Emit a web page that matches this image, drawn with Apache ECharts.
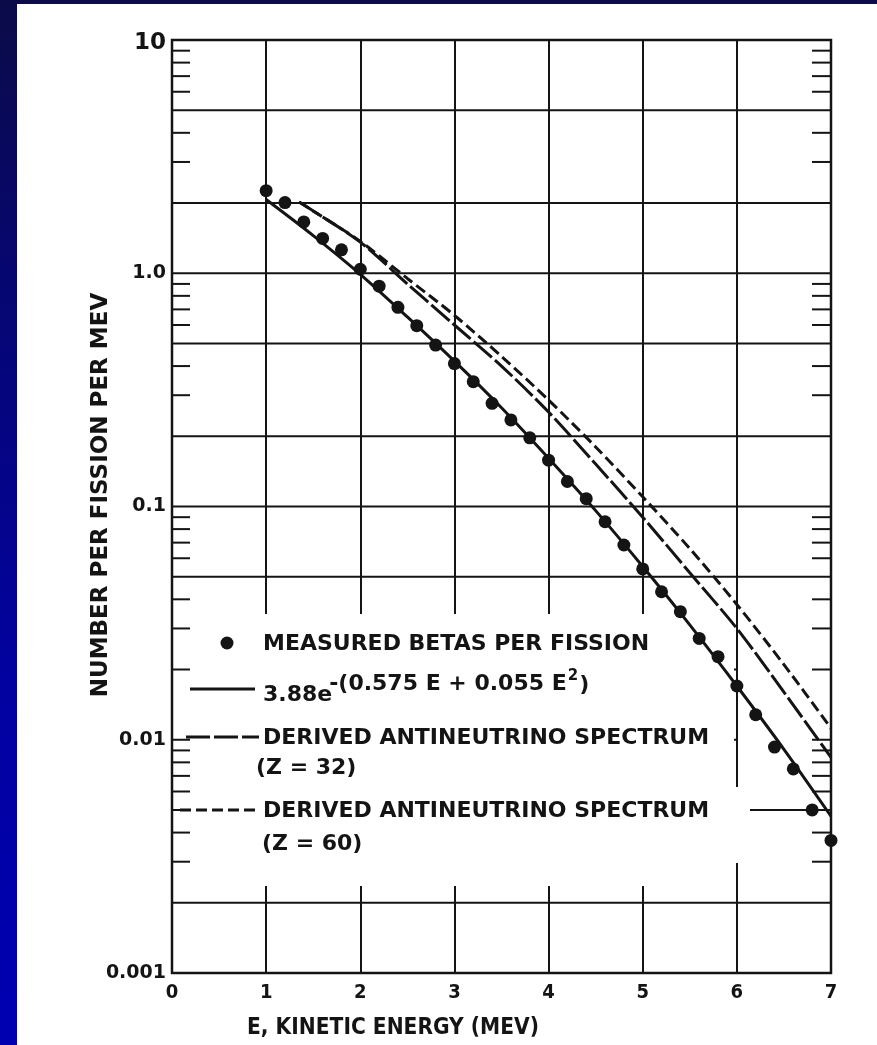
<!DOCTYPE html>
<html>
<head>
<meta charset="utf-8">
<script src="https://cdn.jsdelivr.net/npm/echarts@6/dist/echarts.min.js"></script>
<style>
  html, body { margin: 0; padding: 0; }
  body {
    width: 877px; height: 1045px; overflow: hidden; position: relative;
    background: linear-gradient(to bottom, #0b0b48 0%, #06066e 25%, #0202a0 65%, #0000b2 100%);
  }
  #paper { position: absolute; left: 17px; top: 4px; width: 860px; height: 1041px; background: #ffffff; }
  #chart { position: absolute; left: 0; top: 0; width: 877px; height: 1045px; }
</style>
</head>
<body>
<div id="paper"></div>
<div id="chart"></div>
<script>
// Beta spectrum of fission products and the antineutrino spectra derived from it

const xTicks = [0, 1, 2, 3, 4, 5, 6, 7];
const yTickLabels = ['0.001', '0.01', '0.1', '1.0', '10'];

// measured betas per fission (points)
const energyMeasured = [1.0, 1.2, 1.4, 1.6, 1.8, 2.0, 2.2, 2.4, 2.6, 2.8, 3.0, 3.2, 3.4, 3.6, 3.8,
  4.0, 4.2, 4.4, 4.6, 4.8, 5.0, 5.2, 5.4, 5.6, 5.8, 6.0, 6.2, 6.4, 6.6, 6.8, 7.0];
const measuredBetas = [2.26, 2.01, 1.66, 1.41, 1.26, 1.04, 0.88, 0.714, 0.596, 0.492, 0.41, 0.343, 0.277, 0.235, 0.197,
  0.158, 0.128, 0.108, 0.086, 0.0684, 0.054, 0.0431, 0.0354, 0.0272, 0.0227, 0.0170, 0.0128, 0.0093, 0.0075, 0.0050, 0.0037];

// fitted curve 3.88 e^-(0.575E + 0.055E^2)
const energyFit = [1.0, 1.5, 2.0, 2.5, 3.0, 3.5, 4.0, 4.5, 5.0, 5.5, 6.0, 6.5, 7.0];
const fitValues = [2.07, 1.45, 0.99, 0.65, 0.42, 0.265, 0.161, 0.096, 0.0553, 0.0311, 0.0170, 0.0091, 0.0047];

// derived antineutrino spectra
const energyDerived = [1.35, 1.5, 2.0, 2.5, 3.0, 3.5, 4.0, 4.5, 5.0, 5.5, 6.0, 6.5, 7.0];
const z32Values = [2.02, 1.85, 1.36, 0.90, 0.60, 0.40, 0.254, 0.152, 0.090, 0.052, 0.030, 0.016, 0.0084];
const z60Values = [2.02, 1.85, 1.37, 0.95, 0.66, 0.44, 0.286, 0.180, 0.110, 0.066, 0.038, 0.021, 0.0112];

// horizontal rulings (1, 2, 5 per decade) and short minor marks on both frame sides
const hGridValues = [0.002, 0.005, 0.01, 0.02, 0.05, 0.1, 0.2, 0.5, 1, 2, 5];
const minorMarkValues = [0.003, 0.004, 0.006, 0.007, 0.008, 0.009,
  0.03, 0.04, 0.06, 0.07, 0.08, 0.09,
  0.3, 0.4, 0.6, 0.7, 0.8, 0.9,
  3, 4, 6, 7, 8, 9];

const LEGEND_TEXT = {
  measured: 'MEASURED BETAS PER FISSION',
  fitBase: '3.88e',
  fitExp: '-(0.575 E + 0.055 E',
  fitSquare: '2',
  fitClose: ')',
  derived: 'DERIVED ANTINEUTRINO SPECTRUM',
  z32: '(Z = 32)',
  z60: '(Z = 60)'
};

const INK = '#141414';
const FONT = '"DejaVu Sans", sans-serif';
const FONT_NARROW = '"DejaVu Sans Condensed", "DejaVu Sans", sans-serif';
const KEY_FONT = 'bold 22px ' + FONT;
const X_MIN = 0, X_MAX = 7;

const pairs = (xs, ys) => xs.map((x, i) => [x, ys[i]]);

// text width helper so the formula pieces sit one after another
const measureCtx = document.createElement('canvas').getContext('2d');
function textWidth(text, font) { measureCtx.font = font; return measureCtx.measureText(text).width; }

const chart = echarts.init(document.getElementById('chart'), null, { renderer: 'canvas' });

function legendText(text, x, y, font) {
  return {
    type: 'text', z: 50,
    style: { text: text, x: x, y: y, fill: INK, font: font || KEY_FONT,
      textAlign: 'left', textVerticalAlign: 'middle' }
  };
}
function whiteBox(x, y, w, h) {
  return { type: 'rect', z: 1.5, silent: true, shape: { x: x, y: y, width: w, height: h },
    style: { fill: '#ffffff' } };
}
function legendLine(x1, x2, y, dash) {
  return { type: 'line', z: 50, shape: { x1: x1, y1: y, x2: x2, y2: y },
    style: { stroke: INK, lineWidth: 3, lineDash: dash || null } };
}

// formula pieces laid out left to right
const fx0 = 263;
const fx1 = fx0 + textWidth(LEGEND_TEXT.fitBase, KEY_FONT) - 3;
const fx2 = fx1 + textWidth(LEGEND_TEXT.fitExp, KEY_FONT) + 1;
const SUP_FONT = 'bold 15px ' + FONT;
const fx3 = fx2 + textWidth(LEGEND_TEXT.fitSquare, SUP_FONT) + 1;

const option = {
  backgroundColor: 'transparent',
  animation: false,
  grid: { left: 172, top: 40, width: 659, height: 933, show: true,
    borderColor: INK, borderWidth: 2.5, backgroundColor: 'transparent' },
  xAxis: {
    type: 'value', min: X_MIN, max: X_MAX, interval: 1,
    axisLine: { show: false }, axisTick: { show: false },
    splitLine: { show: true, lineStyle: { color: INK, width: 2 } },
    axisLabel: { color: INK, fontFamily: FONT_NARROW, fontWeight: 'bold', fontSize: 20, margin: 10,
      formatter: v => String(xTicks[Math.round(v)]) }
  },
  yAxis: {
    type: 'log', logBase: 10, min: 0.001, max: 10,
    axisLine: { show: false }, axisTick: { show: false },
    splitLine: { show: false },
    axisLabel: {
      color: INK, fontFamily: FONT, fontWeight: 'bold', fontSize: 19, margin: 6,
      formatter: v => {
        const k = Math.round(Math.log10(v)) + 3;
        const s = yTickLabels[k];
        return k === 4 ? '{big|' + s + '}' : s;
      },
      rich: { big: { fontFamily: FONT, fontWeight: 'bold', fontSize: 23, color: INK, padding: [6, 0, 0, 0] } }
    }
  },
  graphic: [
    // clear area behind the key
    whiteBox(190, 614, 544, 272),
    whiteBox(738, 664, 74, 20),
    whiteBox(738, 730, 74, 20),
    whiteBox(730, 787, 20, 76),
    // key
    { type: 'circle', z: 50, shape: { cx: 227, cy: 643, r: 6.5 }, style: { fill: INK } },
    legendText(LEGEND_TEXT.measured, 263, 644),
    legendLine(190, 255, 689),
    legendText(LEGEND_TEXT.fitBase, fx0, 695),
    legendText(LEGEND_TEXT.fitExp, fx1, 684),
    legendText(LEGEND_TEXT.fitSquare, fx2, 676, SUP_FONT),
    legendText(LEGEND_TEXT.fitClose, fx3, 685),
    legendLine(186, 259, 737, [24, 4]),
    legendText(LEGEND_TEXT.derived, 263, 738),
    legendText(LEGEND_TEXT.z32, 256, 768),
    legendLine(180, 259, 810, [11, 5]),
    legendText(LEGEND_TEXT.derived, 263, 811),
    legendText(LEGEND_TEXT.z60, 262, 844),
    // axis titles
    { type: 'text', z: 50, style: { text: 'E, KINETIC ENERGY (MEV)', x: 393, y: 1028, fill: INK,
      font: 'bold 22.5px ' + FONT_NARROW, textAlign: 'center', textVerticalAlign: 'middle' } },
    { type: 'text', z: 50, rotation: Math.PI / 2, x: 101, y: 495,
      style: { text: 'NUMBER PER FISSION PER MEV', x: 0, y: 0, fill: INK,
        font: 'bold 23px ' + FONT, textAlign: 'center', textVerticalAlign: 'middle' } }
  ],
  series: [
    {
      name: 'rulings', type: 'custom', z: 1, silent: true, clip: false,
      data: hGridValues.map(v => [X_MIN, v]),
      renderItem: (params, api) => {
        const y = api.coord([X_MIN, api.value(1)])[1];
        const cs = params.coordSys;
        return { type: 'line', shape: { x1: cs.x, y1: y, x2: cs.x + cs.width, y2: y },
          style: { stroke: INK, lineWidth: 2 } };
      }
    },
    {
      name: 'minor marks', type: 'custom', z: 1, silent: true, clip: false,
      data: minorMarkValues.map(v => [X_MIN, v]),
      renderItem: (params, api) => {
        const y = api.coord([X_MIN, api.value(1)])[1];
        const cs = params.coordSys;
        return { type: 'group', children: [
          { type: 'line', shape: { x1: cs.x, y1: y, x2: cs.x + 18, y2: y }, style: { stroke: INK, lineWidth: 2 } },
          { type: 'line', shape: { x1: cs.x + cs.width - 19, y1: y, x2: cs.x + cs.width, y2: y }, style: { stroke: INK, lineWidth: 2 } }
        ] };
      }
    },
    {
      name: 'Z = 60', type: 'line', z: 3, data: pairs(energyDerived, z60Values),
      smooth: 0.3, showSymbol: false, symbol: 'none',
      lineStyle: { color: INK, width: 3, type: [11, 5] }
    },
    {
      name: 'Z = 32', type: 'line', z: 3, data: pairs(energyDerived, z32Values),
      smooth: 0.3, showSymbol: false, symbol: 'none',
      lineStyle: { color: INK, width: 3, type: [24, 4] }
    },
    {
      name: 'fit', type: 'line', z: 3, data: pairs(energyFit, fitValues),
      smooth: 0.3, showSymbol: false, symbol: 'none',
      lineStyle: { color: INK, width: 3 }
    },
    {
      name: 'measured', type: 'scatter', z: 4, data: pairs(energyMeasured, measuredBetas),
      symbol: 'circle', symbolSize: 13, itemStyle: { color: INK, opacity: 1 }
    }
  ]
};

chart.setOption(option);
</script>
</body>
</html>
